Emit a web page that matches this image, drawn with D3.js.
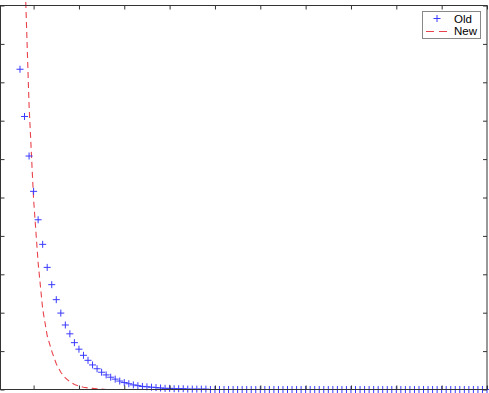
<!DOCTYPE html>
<html>
<head>
<meta charset="utf-8">
<script src="https://cdn.jsdelivr.net/npm/d3@7"></script>
<style>
  body { margin: 0; background: #fff; }
  svg { display: block; font-family: 'Liberation Sans', Arial, sans-serif; }
</style>
</head>
<body>
<div id="chart-area"></div>
<script>
// DATA (x grid starts at -0.3, step 0.1)
const X_START = -0.3
const X_STEP = 0.1
const oldValues = [
  8.34, 7.11, 6.08, 5.16, 4.42, 3.78, 3.18, 2.73, 2.34, 1.99,
  1.68, 1.45, 1.22, 1.05, 0.89, 0.76, 0.64, 0.54, 0.45, 0.38,
  0.32, 0.27, 0.22, 0.18, 0.15, 0.12, 0.10, 0.08, 0.07, 0.06,
  0.05, 0.04, 0.03, 0.03, 0.02, 0.02, 0.02, 0.01, 0.01, 0.01,
  0.01, 0.01, 0, 0, 0, 0, 0, 0, 0, 0,
  0, 0, 0, 0, 0, 0, 0, 0, 0, 0,
  0, 0, 0, 0, 0, 0, 0, 0, 0, 0,
  0, 0, 0, 0, 0, 0, 0, 0, 0, 0,
  0, 0, 0, 0, 0, 0, 0, 0, 0, 0,
  0, 0, 0, 0, 0, 0, 0, 0, 0, 0,
  0, 0, 0, 0
]
const newValues = [
  16.6, 11.1, 7.4, 4.95, 3.3, 2.1, 1.4, 1.0, 0.67, 0.45,
  0.3, 0.2, 0.13, 0.09, 0.06, 0.04, 0.03, 0.02, 0.01, 0,
  0, 0, 0, 0, 0, 0, 0, 0, 0, 0,
  0, 0, 0, 0, 0, 0, 0, 0, 0, 0,
  0, 0, 0, 0, 0, 0, 0, 0, 0, 0,
  0, 0, 0, 0, 0, 0, 0, 0, 0, 0,
  0, 0, 0, 0, 0, 0, 0, 0, 0, 0,
  0, 0, 0, 0, 0, 0, 0, 0, 0, 0,
  0, 0, 0, 0, 0, 0, 0, 0, 0, 0,
  0, 0, 0, 0, 0, 0, 0, 0, 0, 0,
  0, 0, 0, 0
]
const xTicks = [0, 1, 2, 3, 4, 5, 6, 7, 8, 9, 10]
const yTicks = [0, 1, 2, 3, 4, 5, 6, 7, 8, 9, 10]
const legendLabels = ['Old', 'New']

const WIDTH = 489
const HEIGHT = 393
const PLOT = { LEFT: 0.5, RIGHT: 487, TOP: 5.5, BOTTOM: 389.5 }

const svg = d3.select('#chart-area').append('svg')
  .attr('width', WIDTH)
  .attr('height', HEIGHT)

// SCALES
const x = d3.scaleLinear()
  .domain([-0.73, 10])
  .range([PLOT.LEFT, PLOT.RIGHT])
const y = d3.scaleLinear()
  .domain([0, 10])
  .range([PLOT.BOTTOM, PLOT.TOP])

const xAt = i => X_START + i * X_STEP

// AXES (ticks inward, no labels)
const AXIS_COLOR = '#333'
const TICK = 4
const axes = [
  d3.axisBottom(x).tickValues(xTicks).tickSize(TICK).tickFormat(''),
  d3.axisTop(x).tickValues(xTicks).tickSize(TICK).tickFormat(''),
  d3.axisLeft(y).tickValues(yTicks).tickSize(TICK).tickFormat(''),
  d3.axisRight(y).tickValues(yTicks).tickSize(TICK).tickFormat('')
]
const shifts = [
  `translate(0, ${PLOT.BOTTOM}) scale(1, -1)`,
  `translate(0, ${PLOT.TOP}) scale(1, -1)`,
  `translate(${PLOT.LEFT}, 0) scale(-1, 1)`,
  `translate(${PLOT.RIGHT}, 0) scale(-1, 1)`
]

// LINES
svg.append('clipPath').attr('id', 'plot-clip')
  .append('rect')
  .attr('x', PLOT.LEFT)
  .attr('y', 0)
  .attr('width', PLOT.RIGHT - PLOT.LEFT + 2)
  .attr('height', PLOT.BOTTOM + 2)

const line = d3.line()
  .x((d, i) => x(xAt(i)))
  .y(d => y(d))

svg.append('path')
  .datum(newValues)
  .attr('clip-path', 'url(#plot-clip)')
  .attr('fill', 'none')
  .attr('stroke', '#e8424c')
  .attr('stroke-width', 1.1)
  .attr('stroke-dasharray', '6,4')
  .attr('d', line)

// MARKERS
const plus = 'M-3.5,0H3.5M0,-3.5V3.5'
svg.append('g')
  .selectAll('path')
  .data(oldValues)
  .enter().append('path')
  .attr('transform', (d, i) => `translate(${x(xAt(i))}, ${y(d)})`)
  .attr('d', plus)
  .attr('fill', 'none')
  .attr('stroke', '#3a3aff')
  .attr('stroke-width', 1)

// FRAME
axes.forEach((ax, i) => {
  const gAx = svg.append('g')
    .attr('transform', shifts[i])
    .call(ax)
  gAx.selectAll('.domain').remove()
  gAx.selectAll('line').attr('stroke', AXIS_COLOR)
})
svg.append('rect')
  .attr('x', PLOT.LEFT)
  .attr('y', PLOT.TOP)
  .attr('width', PLOT.RIGHT - PLOT.LEFT)
  .attr('height', PLOT.BOTTOM - PLOT.TOP)
  .attr('fill', 'none')
  .attr('stroke', AXIS_COLOR)

// LEGEND
const legend = svg.append('g')
legend.append('rect')
  .attr('x', 422.5)
  .attr('y', 11.5)
  .attr('width', 58)
  .attr('height', 27)
  .attr('fill', '#fff')
  .attr('stroke', '#888')

legend.append('path')
  .attr('transform', 'translate(437, 18.5)')
  .attr('d', plus)
  .attr('stroke', '#3a3aff')
  .attr('fill', 'none')
legend.append('line')
  .attr('x1', 426).attr('x2', 447)
  .attr('y1', 31.5).attr('y2', 31.5)
  .attr('stroke', '#e8424c')
  .attr('stroke-width', 1.1)
  .attr('stroke-dasharray', '8,5')

legend.selectAll('text')
  .data(legendLabels)
  .enter().append('text')
  .attr('x', 454)
  .attr('y', (d, i) => 22.5 + i * 12.5)
  .attr('font-size', '11.5px')
  .attr('fill', '#000')
  .text(d => d)
</script>
</body>
</html>
